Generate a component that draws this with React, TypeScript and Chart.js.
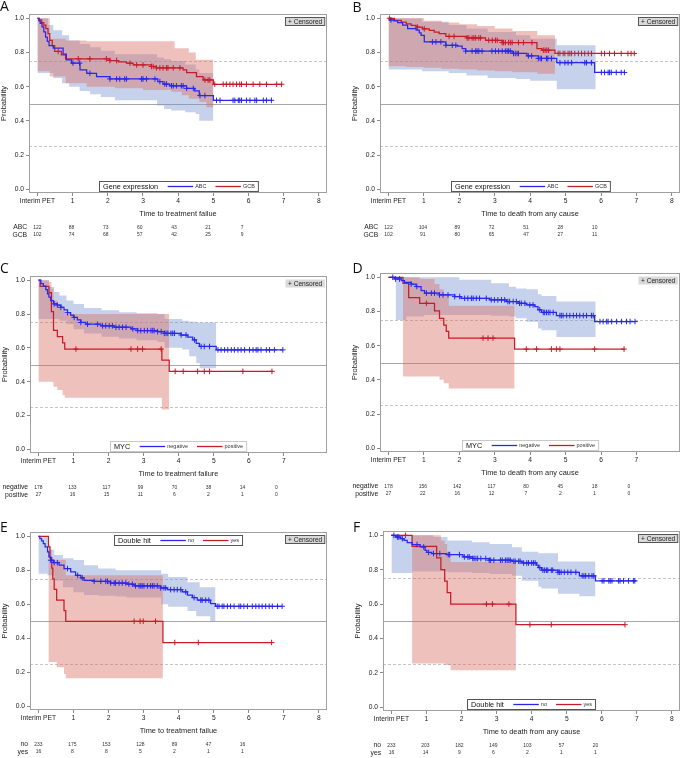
import React, { useEffect, useRef } from "react";
import { Chart, registerables } from "chart.js";
Chart.register(...registerables);

const FONT = '"Liberation Sans", Arial, sans-serif';
const LETTER_FONT = '"Open Sans", "Liberation Sans", Arial, sans-serif';
const BLUE = "rgb(40,40,235)";
const RED = "rgb(198,28,42)";
const BLUE_FILL = "rgba(118,148,208,0.42)";
const RED_FILL = "rgba(218,108,98,0.42)";

// ---------------- Panel A : Gene expression / time to treatment failure
const A_ABC_T = [0,0.04,0.08,0.13,0.18,0.23,0.28,0.33,0.45,0.73,0.82,0.97,1.21,1.4,1.68,2.06,3.42,3.57,3.76,4.24,4.47,4.6,5.0,6.65];
const A_ABC_S = [1,0.985,0.97,0.95,0.92,0.89,0.865,0.84,0.826,0.79,0.757,0.738,0.698,0.678,0.659,0.645,0.63,0.615,0.605,0.59,0.575,0.548,0.52,0.52];
const A_GCB_T = [0,0.05,0.12,0.18,0.24,0.3,0.35,0.42,0.49,0.68,0.8,2.06,2.3,2.53,2.72,3.24,3.38,4.14,4.24,4.52,4.71,5.0,6.94];
const A_GCB_S = [1,0.99,0.975,0.96,0.94,0.91,0.87,0.84,0.806,0.786,0.763,0.753,0.745,0.737,0.727,0.718,0.71,0.698,0.682,0.659,0.639,0.614,0.614];
const A_ABC_C = [1.01,1.2,1.49,2.06,2.25,2.34,2.48,2.53,2.96,3.0,3.1,3.34,3.48,3.62,3.67,3.81,3.86,3.95,4.09,4.14,4.24,4.43,4.62,4.76,5.09,5.19,5.56,5.61,5.71,5.75,5.8,5.94,6.04,6.18,6.23,6.42,6.51,6.65];
const A_GCB_C = [0.59,1.16,1.49,1.96,2.06,2.25,2.63,2.82,3.0,3.24,3.29,3.38,3.48,3.57,3.67,3.71,3.86,4.05,4.76,4.85,4.9,5.04,5.28,5.37,5.47,5.56,5.66,5.75,5.8,5.94,6.13,6.32,6.51,6.8,6.94];
const A_ABC_BT = [0,0.3,0.45,0.7,0.9,1.2,1.5,1.8,2.2,3.4,3.6,3.8,4.2,4.5,4.6,5.0];
const A_ABC_LO = [0.68,0.68,0.65,0.62,0.6,0.575,0.555,0.54,0.52,0.49,0.47,0.46,0.45,0.44,0.4,0.4];
const A_ABC_HI = [1.0,0.96,0.93,0.9,0.87,0.85,0.83,0.81,0.79,0.77,0.76,0.75,0.73,0.7,0.68,0.68];
const A_GCB_BT = [0,0.35,0.8,1.4,2.2,3.0,3.8,3.9,4.1,4.3,4.5,4.6,4.8,5.0];
const A_GCB_LO = [0.69,0.66,0.62,0.6,0.59,0.58,0.57,0.57,0.55,0.53,0.53,0.51,0.48,0.48];
const A_GCB_HI = [1.0,0.88,0.87,0.865,0.865,0.865,0.865,0.825,0.825,0.8,0.757,0.757,0.757,0.757];
const A_ABC_R = [122,88,73,60,43,21,7];
const A_GCB_R = [102,74,68,57,42,25,9];

// ---------------- Panel B : Gene expression / time to death
const B_ABC_T = [0,0.03,0.15,0.26,0.4,0.54,0.78,0.87,0.92,1.01,1.62,1.94,2.08,2.18,3.49,3.91,4.23,4.75,5.82,6.66];
const B_ABC_S = [1,0.99,0.985,0.975,0.96,0.94,0.93,0.915,0.9,0.862,0.842,0.837,0.823,0.808,0.794,0.78,0.765,0.74,0.683,0.683];
const B_GCB_T = [0,0.17,0.36,0.5,0.64,0.78,0.96,1.15,1.29,1.43,1.62,2.22,2.74,3.21,4.19,4.33,4.7,6.94];
const B_GCB_S = [1,0.987,0.977,0.967,0.958,0.948,0.938,0.929,0.919,0.91,0.894,0.885,0.871,0.858,0.823,0.813,0.794,0.794];
const B_ABC_C = [0.07,1.24,1.34,1.48,1.62,1.8,1.9,2.18,2.36,2.46,2.5,2.55,2.64,2.92,3.02,3.11,3.21,3.3,3.35,3.39,3.44,3.53,3.58,3.63,3.67,3.95,4.04,4.23,4.28,4.32,4.46,4.5,4.6,4.84,4.98,5.07,5.17,5.54,5.59,5.73,6.01,6.1,6.2,6.24,6.29,6.43,6.57,6.66];
const B_GCB_C = [0.03,0.82,1.01,1.71,1.85,2.22,2.27,2.36,2.41,2.46,2.55,2.6,2.83,2.93,3.02,3.07,3.21,3.25,3.3,3.39,3.44,3.49,3.67,3.81,4.05,4.37,4.42,4.47,4.52,4.79,4.84,4.93,4.98,5.07,5.12,5.17,5.26,5.36,5.45,5.54,5.64,5.73,6.01,6.1,6.24,6.38,6.57,6.76,6.85,6.94];
const B_ABC_BT = [0,0.95,1.7,2.2,2.8,3.6,4.0,4.75,5.85];
const B_ABC_LO = [0.7,0.69,0.68,0.665,0.65,0.645,0.635,0.585,0.585];
const B_ABC_HI = [1.0,0.98,0.96,0.94,0.92,0.9,0.88,0.842,0.842];
const B_GCB_BT = [0,0.5,1.0,1.5,2.0,2.5,3.0,3.5,4.2,4.7];
const B_GCB_LO = [0.72,0.715,0.71,0.705,0.7,0.695,0.69,0.685,0.675,0.675];
const B_GCB_HI = [1.0,1.0,0.985,0.975,0.965,0.955,0.94,0.925,0.9,0.9];
const B_ABC_R = [122,104,89,72,51,28,10];
const B_GCB_R = [102,91,80,65,47,27,11];

// ---------------- Panel C : MYC / time to treatment failure
const C_NEG_T = [0,0.07,0.14,0.21,0.26,0.3,0.35,0.43,0.54,0.64,0.73,0.83,0.92,1.0,1.11,1.21,1.35,1.78,2.16,2.64,2.83,3.4,3.59,4.07,4.26,4.4,4.5,4.59,5.07,6.97];
const C_NEG_S = [1,0.98,0.965,0.945,0.92,0.9,0.88,0.86,0.853,0.84,0.824,0.808,0.794,0.78,0.765,0.75,0.74,0.73,0.722,0.712,0.702,0.696,0.686,0.676,0.663,0.647,0.627,0.608,0.588,0.588];
const C_POS_T = [0,0.05,0.3,0.37,0.43,0.54,0.69,0.75,3.52,3.73,6.69];
const C_POS_S = [1,0.963,0.926,0.815,0.704,0.667,0.63,0.593,0.527,0.461,0.461];
const C_NEG_C = [0.45,0.54,0.64,0.83,1.02,1.21,1.4,1.69,1.83,1.92,2.02,2.11,2.21,2.3,2.4,2.5,2.69,2.83,2.92,3.02,3.11,3.21,3.26,3.3,3.4,3.5,3.59,3.64,3.69,3.78,3.83,3.88,4.07,4.21,4.45,4.64,4.73,4.88,5.12,5.21,5.31,5.4,5.5,5.59,5.69,5.78,5.88,6.02,6.12,6.21,6.26,6.35,6.5,6.59,6.73,6.97];
const C_POS_C = [1.07,2.64,2.83,2.97,3.5,3.9,4.13,4.54,4.73,4.88,5.83,6.66];
const C_NEG_BT = [0,0.3,0.45,0.6,0.8,1.0,1.3,1.8,2.3,2.8,3.4,3.6,4.1,4.3,4.5,4.6,5.07];
const C_NEG_LO = [0.77,0.77,0.77,0.76,0.74,0.71,0.685,0.665,0.655,0.645,0.635,0.6,0.59,0.55,0.51,0.48,0.48];
const C_NEG_HI = [1.0,0.96,0.93,0.91,0.88,0.86,0.835,0.822,0.81,0.805,0.8,0.77,0.76,0.755,0.75,0.75,0.75];
const C_POS_BT = [0,0.3,0.37,0.43,0.54,0.69,0.75,3.52,3.73];
const C_POS_LO = [0.4,0.4,0.4,0.37,0.35,0.32,0.305,0.235,0.235];
const C_POS_HI = [1.0,0.99,0.95,0.88,0.85,0.82,0.8,0.8,0.8];
const C_NEG_R = [178,133,117,99,70,38,14,0];
const C_POS_R = [27,16,15,11,6,2,1,0];

// ---------------- Panel D : MYC / time to death
const D_NEG_T = [0,0.17,0.36,0.45,0.64,0.78,0.92,1.02,1.44,1.87,2.05,2.86,3.33,3.66,3.89,4.13,4.22,4.32,4.74,5.82,6.96];
const D_NEG_S = [1,0.99,0.98,0.97,0.96,0.946,0.922,0.907,0.897,0.887,0.877,0.868,0.858,0.848,0.838,0.829,0.81,0.794,0.776,0.741,0.741];
const D_POS_T = [0,0.41,0.57,0.88,1.3,1.44,1.56,1.63,1.7,3.56,6.67];
const D_POS_S = [1,0.965,0.881,0.848,0.804,0.76,0.72,0.683,0.644,0.58,0.58];
const D_NEG_C = [0.12,0.2,0.31,0.64,0.8,1.07,1.21,1.3,1.44,1.54,1.68,1.87,2.01,2.15,2.24,2.34,2.39,2.48,2.57,2.76,2.9,2.99,3.09,3.19,3.28,3.37,3.42,3.52,3.61,3.7,3.75,3.85,3.99,4.08,4.27,4.37,4.41,4.46,4.51,4.56,4.65,4.84,4.88,4.93,5.03,5.12,5.22,5.31,5.4,5.5,5.59,5.73,5.78,5.97,6.06,6.16,6.2,6.3,6.44,6.58,6.72,6.82,6.96];
const D_POS_C = [1.07,2.67,2.81,2.95,3.89,4.18,4.6,4.74,4.84,5.82,6.65];
const D_NEG_BT = [0.2,0.5,1.0,2.0,2.9,3.4,3.6,3.9,4.22,4.32,4.74,5.85];
const D_NEG_LO = [0.75,0.77,0.78,0.78,0.775,0.77,0.76,0.74,0.7,0.69,0.65,0.65];
const D_NEG_HI = [1.0,1.0,1.0,0.985,0.965,0.945,0.935,0.93,0.9,0.89,0.858,0.858];
const D_POS_BT = [0.41,0.57,0.88,1.3,1.44,1.56,1.7,3.56];
const D_POS_LO = [0.42,0.42,0.42,0.42,0.4,0.38,0.35,0.35];
const D_POS_HI = [1.0,1.0,0.99,0.96,0.93,0.9,0.833,0.833];
const D_NEG_R = [178,156,142,117,80,45,18,0];
const D_POS_R = [27,22,16,12,7,2,1,0];

// ---------------- Panel E : Double hit / time to treatment failure
const E_NO_T = [0,0.04,0.09,0.14,0.19,0.26,0.3,0.35,0.43,0.59,0.73,0.92,1.06,1.21,1.3,1.59,2.06,2.54,2.73,3.49,3.68,4.1,4.25,4.39,4.53,4.91,5.05,6.95];
const E_NO_S = [1,0.986,0.973,0.957,0.937,0.908,0.878,0.859,0.845,0.83,0.81,0.79,0.77,0.755,0.741,0.735,0.725,0.718,0.708,0.696,0.686,0.673,0.653,0.639,0.624,0.604,0.588,0.588];
const E_YES_T = [0,0.285,0.33,0.38,0.41,0.45,0.52,0.73,0.78,3.55,6.67];
const E_YES_S = [1,0.9375,0.875,0.8125,0.75,0.6875,0.625,0.5625,0.5,0.375,0.375];
const E_NO_C = [0.35,0.45,0.54,0.83,1.12,1.25,1.59,1.78,1.92,1.97,2.06,2.16,2.2,2.3,2.39,2.49,2.58,2.68,2.77,2.87,2.92,2.96,3.01,3.11,3.2,3.25,3.3,3.39,3.49,3.58,3.63,3.77,3.87,3.96,4.06,4.2,4.44,4.63,4.67,4.77,4.86,5.1,5.15,5.24,5.29,5.39,5.48,5.58,5.72,5.77,5.86,5.96,6.1,6.2,6.29,6.38,6.48,6.58,6.67,6.82,6.95];
const E_YES_C = [2.73,2.9,2.99,3.34,3.89,4.56,6.65];
const E_NO_BT = [0,0.26,0.45,0.7,1.0,1.3,1.7,2.2,2.5,3.5,3.7,4.25,4.5,4.6,4.9,5.05];
const E_NO_LO = [0.78,0.77,0.74,0.7,0.67,0.655,0.65,0.645,0.64,0.6,0.585,0.56,0.53,0.53,0.5,0.5];
const E_NO_HI = [1.0,0.92,0.89,0.87,0.86,0.83,0.81,0.8,0.8,0.78,0.76,0.73,0.73,0.7,0.7,0.7];
const E_YES_BT = [0.285,0.33,0.38,0.52,0.73,0.78,3.55];
const E_YES_LO = [0.26,0.26,0.26,0.23,0.19,0.165,0.165];
const E_YES_HI = [0.95,0.92,0.86,0.86,0.86,0.77,0.77];
const E_NO_R = [233,175,153,128,89,47,16];
const E_YES_R = [16,8,8,5,2,1,1];

// ---------------- Panel F : Double hit / time to death
const F_NO_T = [0,0.12,0.26,0.36,0.45,0.59,0.82,0.96,1.01,1.15,1.57,2.04,2.32,2.79,3.44,3.72,4.14,4.19,4.28,4.75,5.36,5.82,6.99];
const F_NO_S = [1,0.99,0.98,0.971,0.957,0.946,0.932,0.913,0.9,0.894,0.888,0.874,0.865,0.855,0.849,0.839,0.826,0.812,0.797,0.785,0.764,0.735,0.735];
const F_YES_T = [0,0.59,1.29,1.41,1.52,1.59,1.69,3.55,6.66];
const F_YES_S = [1,0.936,0.868,0.8,0.734,0.667,0.6,0.48,0.48];
const F_NO_C = [0.07,0.17,0.21,0.31,0.73,0.92,1.06,1.2,1.38,1.62,1.66,1.94,2.08,2.18,2.22,2.32,2.36,2.41,2.46,2.55,2.69,2.79,2.83,2.92,3.11,3.16,3.25,3.3,3.35,3.39,3.49,3.53,3.63,3.67,3.77,3.86,3.91,4.0,4.05,4.1,4.23,4.32,4.37,4.42,4.46,4.56,4.6,4.75,4.79,4.84,4.93,5.03,5.12,5.26,5.44,5.49,5.54,5.63,5.72,5.77,6.01,6.06,6.2,6.24,6.29,6.48,6.52,6.62,6.76,6.9,6.94];
const F_YES_C = [0.4,2.71,2.88,3.35,3.95,4.56,6.66];
const F_NO_BT = [0,0.6,1.2,1.6,2.3,2.8,3.44,3.72,4.19,4.28,4.75,5.36,5.82];
const F_NO_LO = [0.78,0.79,0.79,0.785,0.78,0.775,0.765,0.735,0.7,0.69,0.66,0.645,0.645];
const F_NO_HI = [1.0,1.0,0.99,0.97,0.96,0.95,0.93,0.905,0.895,0.895,0.848,0.848,0.848];
const F_YES_BT = [0.59,1.29,1.41,1.52,1.59,1.69,3.55];
const F_YES_LO = [0.255,0.255,0.255,0.245,0.245,0.215,0.215];
const F_YES_HI = [1.0,1.0,0.97,0.95,0.9,0.845,0.845];
const F_NO_R = [233,203,182,149,103,57,20];
const F_YES_R = [16,14,9,6,2,1,1];

const X_TICKS_8 = [0, 1, 2, 3, 4, 5, 6, 7, 8];
const X_TICKS_7 = [0, 1, 2, 3, 4, 5, 6, 7];
const Y_TICKS = [0, 0.2, 0.4, 0.6, 0.8, 1.0];
const REF_LINES = [0.75, 0.5, 0.25];

interface Group {
  name: string; t: number[]; s: number[]; cens: number[];
  bt: number[]; lo: number[]; hi: number[]; risk: number[];
  color: string; fill: string;
}
interface Panel {
  letter: string; letterPos: [number, number];
  box: [number, number, number, number];
  frame: [number, number, number, number];
  xTitle: string; xTicks: number[];
  legendTitle: string; legendTop: boolean; light: boolean;
  groups: Group[];
}

const grp = (name: string, t: number[], s: number[], cens: number[], bt: number[], lo: number[], hi: number[], risk: number[], blue: boolean): Group =>
  ({ name, t, s, cens, bt, lo, hi, risk, color: blue ? BLUE : RED, fill: blue ? BLUE_FILL : RED_FILL });

const PANELS: Panel[] = [
  {
    letter: "A", letterPos: [0, 10.5], box: [0, 0, 340, 250], frame: [29, 14, 327, 193],
    xTitle: "Time to treatment failue", xTicks: X_TICKS_8, legendTitle: "Gene expression", legendTop: false, light: false,
    groups: [
      grp("ABC", A_ABC_T, A_ABC_S, A_ABC_C, A_ABC_BT, A_ABC_LO, A_ABC_HI, A_ABC_R, true),
      grp("GCB", A_GCB_T, A_GCB_S, A_GCB_C, A_GCB_BT, A_GCB_LO, A_GCB_HI, A_GCB_R, false),
    ],
  },
  {
    letter: "B", letterPos: [352.5, 12], box: [340, 0, 345, 250], frame: [380, 14, 682, 193],
    xTitle: "Time to death from any cause", xTicks: X_TICKS_8, legendTitle: "Gene expression", legendTop: false, light: false,
    groups: [
      grp("ABC", B_ABC_T, B_ABC_S, B_ABC_C, B_ABC_BT, B_ABC_LO, B_ABC_HI, B_ABC_R, true),
      grp("GCB", B_GCB_T, B_GCB_S, B_GCB_C, B_GCB_BT, B_GCB_LO, B_GCB_HI, B_GCB_R, false),
    ],
  },
  {
    letter: "C", letterPos: [0, 273], box: [0, 250, 340, 260], frame: [30, 276, 327, 453],
    xTitle: "Time to treatment failure", xTicks: X_TICKS_7, legendTitle: "MYC", legendTop: false, light: true,
    groups: [
      grp("negative", C_NEG_T, C_NEG_S, C_NEG_C, C_NEG_BT, C_NEG_LO, C_NEG_HI, C_NEG_R, true),
      grp("positive", C_POS_T, C_POS_S, C_POS_C, C_POS_BT, C_POS_LO, C_POS_HI, C_POS_R, false),
    ],
  },
  {
    letter: "D", letterPos: [352.5, 273], box: [340, 250, 345, 260], frame: [380, 273, 680, 452],
    xTitle: "Time to death from any cause", xTicks: X_TICKS_7, legendTitle: "MYC", legendTop: false, light: true,
    groups: [
      grp("negative", D_NEG_T, D_NEG_S, D_NEG_C, D_NEG_BT, D_NEG_LO, D_NEG_HI, D_NEG_R, true),
      grp("positive", D_POS_T, D_POS_S, D_POS_C, D_POS_BT, D_POS_LO, D_POS_HI, D_POS_R, false),
    ],
  },
  {
    letter: "E", letterPos: [0, 532], box: [0, 510, 340, 248], frame: [30, 532, 327, 710],
    xTitle: "Time to treatment failue", xTicks: X_TICKS_8, legendTitle: "Double hit", legendTop: true, light: false,
    groups: [
      grp("no", E_NO_T, E_NO_S, E_NO_C, E_NO_BT, E_NO_LO, E_NO_HI, E_NO_R, true),
      grp("yes", E_YES_T, E_YES_S, E_YES_C, E_YES_BT, E_YES_LO, E_YES_HI, E_YES_R, false),
    ],
  },
  {
    letter: "F", letterPos: [353, 531.5], box: [340, 510, 345, 248], frame: [383, 531, 683, 711],
    xTitle: "Time to death from any cause", xTicks: X_TICKS_8, legendTitle: "Double hit", legendTop: false, light: false,
    groups: [
      grp("no", F_NO_T, F_NO_S, F_NO_C, F_NO_BT, F_NO_LO, F_NO_HI, F_NO_R, true),
      grp("yes", F_YES_T, F_YES_S, F_YES_C, F_YES_BT, F_YES_LO, F_YES_HI, F_YES_R, false),
    ],
  },
];

function stepVal(x: number, t: number[], s: number[]): number {
  let v = s[0];
  for (let i = 0; i < t.length; i++) {
    if (t[i] <= x + 1e-9) v = s[i] ?? v;
  }
  return v;
}

function decoPlugin(p: Panel) {
  return {
    id: "deco" + p.letter,
    beforeDatasetsDraw(chart: any) {
      const { ctx, chartArea: a, scales } = chart;
      ctx.save();
      REF_LINES.forEach((v) => {
        const py = Math.round(scales.y.getPixelForValue(v)) + 0.5;
        const dashed = v !== 0.5;
        ctx.beginPath();
        ctx.setLineDash(dashed ? [3, 2] : []);
        ctx.strokeStyle = dashed ? "#c4c4c4" : "#a8a8a8";
        ctx.lineWidth = 1;
        ctx.moveTo(a.left, py);
        ctx.lineTo(a.right, py);
        ctx.stroke();
      });
      ctx.restore();
    },
    afterDraw(chart: any) {
      const { ctx, chartArea: a, scales } = chart;
      const ox = p.box[0], oy = p.box[1];
      ctx.save();
      // frame
      ctx.strokeStyle = "#a0a0a0";
      ctx.lineWidth = 1;
      ctx.setLineDash([]);
      ctx.strokeRect(Math.round(a.left) + 0.5, Math.round(a.top) + 0.5, Math.round(a.right - a.left) - 1, Math.round(a.bottom - a.top) - 1);

      // panel letter
      ctx.fillStyle = "#111";
      ctx.font = `14px ${LETTER_FONT}`;
      ctx.textAlign = "left";
      ctx.textBaseline = "alphabetic";
      ctx.fillText(p.letter, p.letterPos[0] - ox, p.letterPos[1] - oy);

      // y title
      ctx.fillStyle = "#222";
      ctx.font = `7.5px ${FONT}`;
      ctx.save();
      ctx.translate(a.left - 25.2, (a.top + a.bottom) / 2);
      ctx.rotate(-Math.PI / 2);
      ctx.textAlign = "center";
      ctx.textBaseline = "middle";
      ctx.fillText("Probability", 0, 0);
      ctx.restore();

      // x title
      ctx.font = `7.4px ${FONT}`;
      ctx.textAlign = "center";
      ctx.textBaseline = "middle";
      ctx.fillText(p.xTitle, (a.left + a.right) / 2, a.bottom + 20.6);

      // at-risk table
      const x0 = scales.x.getPixelForValue(0);
      p.groups.forEach((g, gi) => {
        const ry = a.bottom + 34.4 + gi * 7.4;
        ctx.font = `6.8px ${FONT}`;
        ctx.textAlign = "right";
        ctx.fillStyle = "#222";
        ctx.fillText(g.name, x0 - 10.3, ry);
        ctx.font = `5px ${FONT}`;
        ctx.textAlign = "center";
        ctx.fillStyle = "#333";
        g.risk.forEach((n, k) => {
          const px = x0 + (scales.x.getPixelForValue(k) - x0) * 0.97;
          ctx.fillText(String(n), px, ry);
        });
      });

      // legend box
      const titleFont = `7.3px ${FONT}`;
      const itemFont = `5.5px ${FONT}`;
      ctx.font = titleFont;
      const tw = ctx.measureText(p.legendTitle).width;
      ctx.font = itemFont;
      const w1 = ctx.measureText(p.groups[0].name).width;
      const w2 = ctx.measureText(p.groups[1].name).width;
      const pad = 3.5, lineLen = 25.5, gapT = 9.5, gapL = 2, gapI = 9;
      const W = pad + tw + gapT + lineLen + gapL + w1 + gapI + lineLen + gapL + w2 + pad;
      const H = 10;
      const lx = Math.round((a.left + a.right) / 2 - W / 2) + 0.5;
      const ly = (p.legendTop ? Math.round(a.top + 3) : Math.round(a.bottom - 2.5 - H)) + 0.5;
      ctx.fillStyle = "#fff";
      ctx.fillRect(lx, ly, W, H);
      ctx.strokeStyle = p.light ? "#c8c8c8" : "#555";
      ctx.strokeRect(lx, ly, W, H);
      const cy = ly + H / 2;
      let cx = lx + pad;
      ctx.textAlign = "left";
      ctx.textBaseline = "middle";
      ctx.fillStyle = "#111";
      ctx.font = titleFont;
      ctx.fillText(p.legendTitle, cx, cy + 0.3);
      cx += tw + gapT;
      p.groups.forEach((g, gi) => {
        ctx.strokeStyle = g.color;
        ctx.lineWidth = 1.3;
        ctx.beginPath();
        ctx.moveTo(cx, cy);
        ctx.lineTo(cx + lineLen, cy);
        ctx.stroke();
        cx += lineLen + gapL;
        ctx.font = itemFont;
        ctx.fillStyle = "#333";
        ctx.fillText(g.name, cx, cy + 0.3);
        cx += (gi === 0 ? w1 : w2) + gapI;
      });

      // censored box
      ctx.font = `6.6px ${FONT}`;
      const ct = "+ Censored";
      const cw = ctx.measureText(ct).width + 5;
      const bx = Math.round(a.right - 2.5 - cw) + 0.5;
      const by = Math.round(a.top + 3) + 0.5;
      ctx.fillStyle = "#d9d9d9";
      ctx.fillRect(bx, by, cw, 8);
      if (!p.light) {
        ctx.strokeStyle = "#555";
        ctx.lineWidth = 1;
        ctx.strokeRect(bx, by, cw, 8);
      }
      ctx.fillStyle = "#222";
      ctx.textAlign = "left";
      ctx.textBaseline = "middle";
      ctx.fillText(ct, bx + 2.5, by + 4.3);
      ctx.restore();
    },
  };
}

function buildChart(canvas: HTMLCanvasElement, p: Panel): Chart {
  const datasets: any[] = [];
  p.groups.forEach((g) => {
    datasets.push({
      data: g.cens.map((c) => ({ x: c, y: stepVal(c, g.t, g.s) })),
      showLine: false, pointStyle: "cross", pointRadius: 2.8, pointBorderWidth: 1,
      pointBorderColor: g.color, pointBackgroundColor: g.color, borderColor: g.color, order: 0,
    });
  });
  p.groups.forEach((g) => {
    datasets.push({
      data: g.t.map((x, i) => ({ x, y: g.s[i] ?? g.s[g.s.length - 1] })),
      stepped: "before", borderColor: g.color, borderWidth: 1.25, pointRadius: 0, fill: false, order: 1,
    });
  });
  p.groups.forEach((g, gi) => {
    datasets.push({
      data: g.bt.map((x, i) => ({ x, y: g.hi[i] })),
      stepped: "before", borderColor: "rgba(0,0,0,0)", borderWidth: 0, pointRadius: 0,
      fill: "+1", backgroundColor: g.fill, order: gi === 0 ? 3 : 2,
    });
    datasets.push({
      data: g.bt.map((x, i) => ({ x, y: g.lo[i] })),
      stepped: "before", borderColor: "rgba(0,0,0,0)", borderWidth: 0, pointRadius: 0,
      fill: false, order: gi === 0 ? 3 : 2,
    });
  });

  const [bx, by, bw, bh] = p.box;
  const [fl, ft, fr, fb] = p.frame;
  const yw = fl - bx;
  const xh = by + bh - fb;

  return new Chart(canvas, {
    type: "line",
    data: { datasets },
    options: {
      responsive: false,
      animation: false,
      events: [],
      layout: { padding: { left: 0, top: ft - by, right: bx + bw - fr, bottom: 0 } },
      plugins: { legend: { display: false }, tooltip: { enabled: false } },
      scales: {
        x: {
          type: "linear", min: -0.24, max: 8.23,
          afterBuildTicks: (s: any) => { s.ticks = p.xTicks.map((v) => ({ value: v })); },
          afterFit: (s: any) => { s.height = xh; },
          grid: { drawOnChartArea: false, drawTicks: true, tickLength: 3, color: "#8a8a8a" },
          border: { display: false },
          ticks: {
            font: { family: FONT, size: 6.7 }, color: "#222", padding: 1.5, maxRotation: 0, autoSkip: false,
            callback: (v: any) => (Number(v) === 0 ? "Interim PET" : String(v)),
          },
        },
        y: {
          type: "linear", min: -0.022, max: 1.025,
          afterBuildTicks: (s: any) => { s.ticks = Y_TICKS.map((v) => ({ value: v })); },
          afterFit: (s: any) => { s.width = yw; },
          grid: { drawOnChartArea: false, drawTicks: true, tickLength: 3, color: "#8a8a8a" },
          border: { display: false },
          ticks: {
            font: { family: FONT, size: 6.7 }, color: "#222", padding: 2,
            callback: (v: any) => Number(v).toFixed(1),
          },
        },
      },
    } as any,
    plugins: [decoPlugin(p)],
  });
}

function PanelChart({ p }: { p: Panel }) {
  const ref = useRef<HTMLCanvasElement | null>(null);
  useEffect(() => {
    if (!ref.current) return;
    const c = buildChart(ref.current, p);
    return () => c.destroy();
  }, [p]);
  const [x, y, w, h] = p.box;
  return (
    <canvas
      ref={ref}
      width={w}
      height={h}
      style={{ position: "absolute", left: x, top: y, width: w, height: h }}
    />
  );
}

export default function App() {
  return (
    <div style={{ position: "absolute", left: 0, top: 0, width: 685, height: 758, background: "#fff", overflow: "hidden" }}>
      {PANELS.map((p) => (
        <PanelChart key={p.letter} p={p} />
      ))}
    </div>
  );
}
